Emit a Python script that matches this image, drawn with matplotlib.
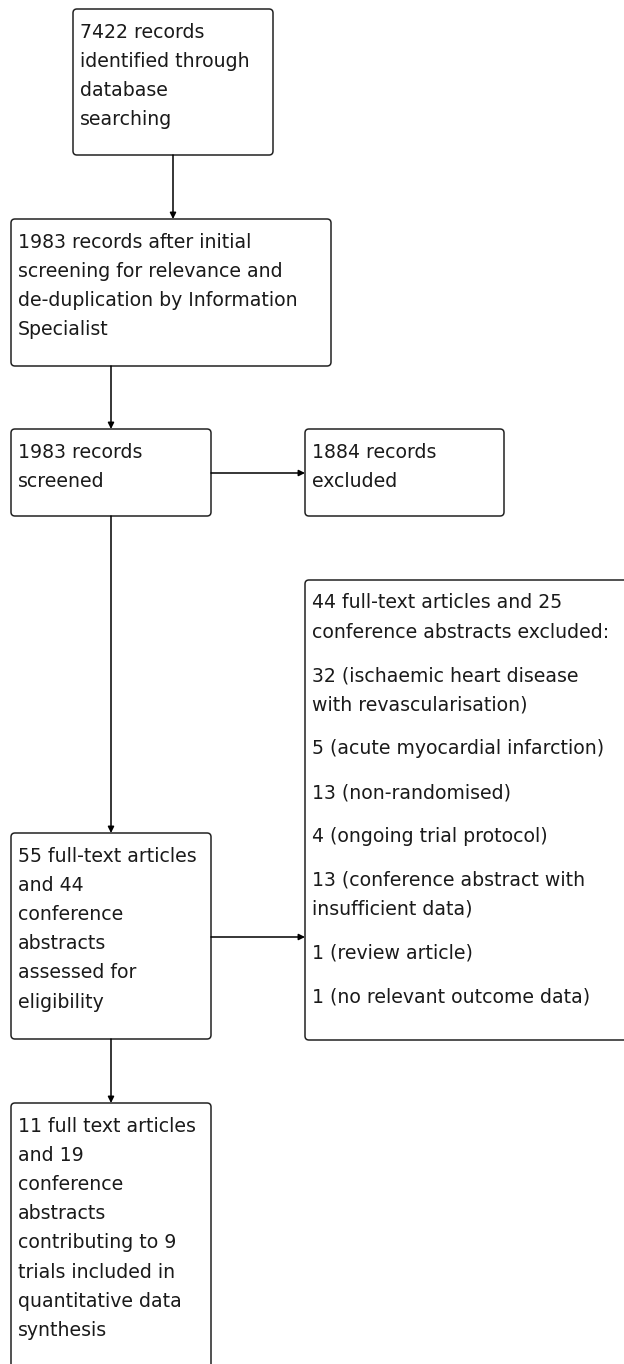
import matplotlib.pyplot as plt
from matplotlib.patches import FancyBboxPatch

# === CONTENT ===
box_texts = [
    ["7422 records", "identified through", "database", "searching"],
    ["1983 records after initial", "screening for relevance and",
     "de-duplication by Information", "Specialist"],
    ["1983 records", "screened"],
    ["1884 records", "excluded"],
    ["44 full-text articles and 25", "conference abstracts excluded:",
     None, "32 (ischaemic heart disease", "with revascularisation)",
     None, "5 (acute myocardial infarction)",
     None, "13 (non-randomised)",
     None, "4 (ongoing trial protocol)",
     None, "13 (conference abstract with", "insufficient data)",
     None, "1 (review article)",
     None, "1 (no relevant outcome data)"],
    ["55 full-text articles", "and 44", "conference", "abstracts",
     "assessed for", "eligibility"],
    ["11 full text articles", "and 19", "conference", "abstracts",
     "contributing to 9", "trials included in", "quantitative data",
     "synthesis"],
]

# box layout in pixels: left, top, right, bottom
boxes = [
    (73, 9, 273, 155),
    (11, 219, 331, 366),
    (11, 429, 211, 516),
    (305, 429, 504, 516),
    (305, 580, 630, 1040),
    (11, 833, 211, 1039),
    (11, 1103, 211, 1380),
]

# arrows: (x0, y0, x1, y1)
arrows = [
    (173, 155, 173, 219),
    (111, 366, 111, 429),
    (211, 473, 305, 473),
    (111, 516, 111, 833),
    (211, 937, 305, 937),
    (111, 1039, 111, 1103),
]

LINE_H = 29.2
GAP_H = 14.5
EDGE = "#222222"


def main():
    fig = plt.figure(figsize=(6.24, 13.64), dpi=100)
    ax = fig.add_axes([0, 0, 1, 1])
    ax.set_xlim(0, 624)
    ax.set_ylim(1364, 0)
    ax.axis("off")

    for (l, t, r, b), lines in zip(boxes, box_texts):
        patch = FancyBboxPatch((l, t), r - l, b - t,
                               boxstyle="round,pad=0,rounding_size=4",
                               facecolor="white", edgecolor=EDGE,
                               linewidth=1.1)
        ax.add_patch(patch)
        y = t + 23
        for line in lines:
            if line is None:
                y += GAP_H
                continue
            ax.text(l + 7, y, line, fontsize=13.6, family="DejaVu Sans",
                    va="center", ha="left", color="#1a1a1a")
            y += LINE_H

    for x0, y0, x1, y1 in arrows:
        ax.annotate("", xy=(x1, y1), xytext=(x0, y0),
                    arrowprops=dict(arrowstyle="-|>", color="black",
                                    lw=1.1, mutation_scale=9,
                                    shrinkA=0, shrinkB=0))

    fig.savefig("out.png", dpi=100)


if __name__ == "__main__":
    main()
